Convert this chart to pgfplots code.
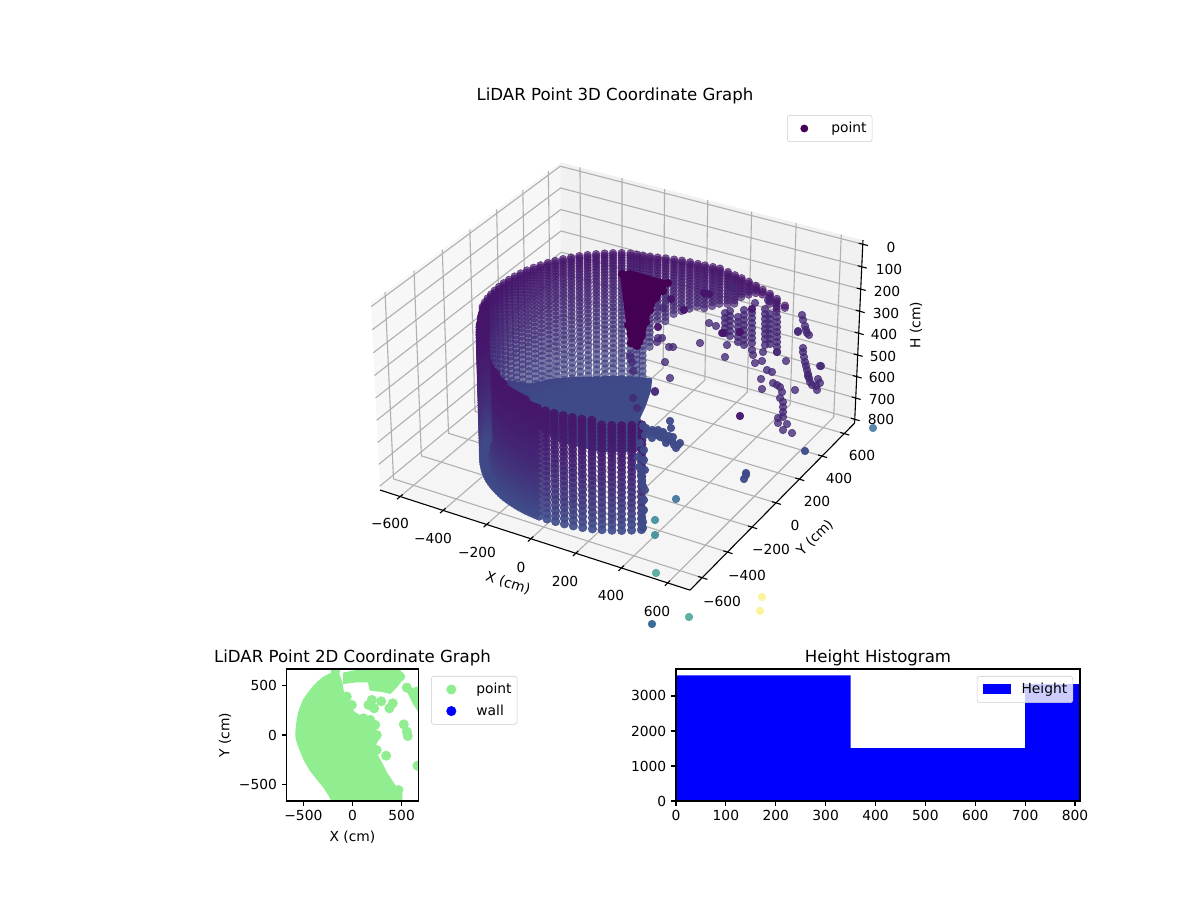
\documentclass[border=0pt]{standalone}
\usepackage{fontspec}
\setmainfont{DejaVu Sans}
\usepackage{pgfplots}
\usepackage{pgfplotstable}
\pgfplotsset{compat=1.18}
\definecolor{cA}{HTML}{46146B}
\definecolor{cB}{HTML}{3F4A89}
\definecolor{gridc}{HTML}{B0B0B0}
\definecolor{lgreen}{HTML}{90EE90}
\definecolor{legc}{HTML}{CCCCCC}
\definecolor{c0}{HTML}{440154}
\definecolor{c1}{HTML}{5B87AD}
\definecolor{c2}{HTML}{40709B}
\definecolor{c3}{HTML}{3E8D98}
\definecolor{c4}{HTML}{4FA89A}
\definecolor{c5}{HTML}{3A6D98}
\definecolor{c6}{HTML}{F9F28E}
% wall columns: X Y (cm), first and last height (cm)
\pgfplotstableread{
X Y Ht Hb
-525 -183 197 800
-536 -150 197 800
-544 -116 197 800
-550 -81 197 800
-554 -47 197 800
-556 -12 197 800
-556 23 197 800
-553 58 197 800
-548 93 197 800
-541 127 197 800
-532 161 197 800
-521 194 197 800
-508 226 197 800
-493 258 197 800
-476 288 197 800
-457 317 197 800
-436 345 197 800
-413 372 197 800
-389 397 197 800
-363 421 197 800
-336 443 197 800
-308 463 197 800
-278 481 197 800
-245 495 197 810
-218 500 197 810
-192 505 197 787
-163 512 197 635
-132 520 197 505
-100 530 197 490
-66 538 197 460
-34 546 197 430
1 550 197 414
35 553 197 405
66 556 197 400
100 560 197 385
131 563 197 372
173 553 197 350
210 543 197 326
245 534 197 290
284 522 197 257
324 507 197 240
363 490 197 229
403 475 197 250
446 452 197 261
499 419 197 215
}\backwall
\pgfplotstableread{
X Y Ht Hb
-520 -175 197 810
-508 -211 200 810
-500 -228 203 810
-492 -245 205 810
-484 -262 208 810
-476 -279 212 810
-467 -295 216 810
-457 -311 220 810
-447 -326 225 810
-436 -341 230 810
-424 -356 235 810
-412 -371 240 810
-399 -385 245 810
-386 -398 250 810
-373 -412 255 810
-359 -425 260 810
-344 -437 265 810
-329 -448 270 810
-314 -459 274 810
-298 -469 278 810
-282 -479 282 810
-265 -489 286 810
-248 -498 290 810
-231 -506 294 810
-214 -513 297 810
-197 -520 300 810
-179 -526 303 810
-161 -532 305 810
-143 -537 307 810
-124 -542 309 810
-106 -546 311 810
-87 -549 313 810
-68 -552 315 810
-49 -554 317 810
-12 -556 320 810
26 -555 322 810
64 -552 323 810
101 -547 324 810
138 -539 325 810
175 -528 326 810
210 -515 327 810
245 -499 328 810
278 -482 329 810
310 -461 330 810
341 -439 332 810
}\frontwall
\pgfplotsset{
  table/proj/.style={x expr={sX(\thisrow{X},\thisrow{Y},\thisrow{H})},y expr={sY(\thisrow{X},\thisrow{Y},\thisrow{H})}},
  table/scr/.style={x=px,y expr={900-\thisrow{py}}},
  dot/.style={only marks,mark=*,mark size=2.75pt,color=#1}
}
\newcommand\seg[6]{\addplot[black,line width=0.8pt] table[proj,row sep=\\]{X Y H\\ #1 #2 #3\\ #4 #5 #6\\};}
\newcommand\wallrow[4]{\addplot[only marks,mark=*,mark size=2.75pt,opacity=0.68,color=cB!#3!cA]
  table[x expr={sX(\thisrow{X},\thisrow{Y},#2)},y expr={sY(\thisrow{X},\thisrow{Y},#2)},
  restrict expr to domain={(\thisrow{Hb}-#2)*(#2-\thisrow{Ht})}{0:100000000}]{#1};}
\newcommand\frontrow[3]{\addplot[only marks,mark=*,mark size=3.05pt,opacity=0.9,color=cB!#3!cA]
  table[x expr={sX(\thisrow{X},\thisrow{Y},#2)},y expr={sY(\thisrow{X},\thisrow{Y},#2)},
  restrict expr to domain={(\thisrow{Hb}-#2)*(#2-\thisrow{Ht})}{0:100000000}]{#1};}
\newcommand\wallrows[2]{%
\wallrow{#1}{197}{0}{#2}\wallrow{#1}{207}{2}{#2}\wallrow{#1}{218}{3}{#2}\wallrow{#1}{230}{5}{#2}%
\wallrow{#1}{242}{7}{#2}\wallrow{#1}{255}{9}{#2}\wallrow{#1}{268}{12}{#2}\wallrow{#1}{282}{14}{#2}%
\wallrow{#1}{296}{16}{#2}\wallrow{#1}{311}{19}{#2}\wallrow{#1}{326}{21}{#2}\wallrow{#1}{342}{24}{#2}%
\wallrow{#1}{358}{26}{#2}\wallrow{#1}{375}{29}{#2}\wallrow{#1}{392}{32}{#2}\wallrow{#1}{410}{35}{#2}%
\wallrow{#1}{428}{38}{#2}\wallrow{#1}{447}{41}{#2}\wallrow{#1}{466}{44}{#2}\wallrow{#1}{486}{47}{#2}%
\wallrow{#1}{506}{50}{#2}\wallrow{#1}{527}{54}{#2}\wallrow{#1}{548}{57}{#2}\wallrow{#1}{570}{61}{#2}%
\wallrow{#1}{592}{64}{#2}\wallrow{#1}{615}{68}{#2}\wallrow{#1}{638}{72}{#2}\wallrow{#1}{662}{76}{#2}%
\wallrow{#1}{686}{80}{#2}\wallrow{#1}{710}{84}{#2}\wallrow{#1}{735}{88}{#2}\wallrow{#1}{760}{92}{#2}%
\wallrow{#1}{785}{96}{#2}\wallrow{#1}{810}{100}{#2}}
\newcommand\frontrows[1]{%
\frontrow{#1}{197}{0}\frontrow{#1}{207}{0}\frontrow{#1}{218}{0}\frontrow{#1}{230}{0}%
\frontrow{#1}{242}{0}\frontrow{#1}{255}{1}\frontrow{#1}{268}{1}\frontrow{#1}{282}{2}%
\frontrow{#1}{296}{3}\frontrow{#1}{311}{4}\frontrow{#1}{326}{4}\frontrow{#1}{342}{6}%
\frontrow{#1}{358}{7}\frontrow{#1}{375}{8}\frontrow{#1}{392}{10}\frontrow{#1}{410}{12}%
\frontrow{#1}{428}{14}\frontrow{#1}{447}{17}\frontrow{#1}{466}{19}\frontrow{#1}{486}{22}%
\frontrow{#1}{506}{25}\frontrow{#1}{527}{29}\frontrow{#1}{548}{32}\frontrow{#1}{570}{37}%
\frontrow{#1}{592}{41}\frontrow{#1}{615}{46}\frontrow{#1}{638}{52}\frontrow{#1}{662}{58}%
\frontrow{#1}{686}{64}\frontrow{#1}{710}{71}\frontrow{#1}{735}{77}\frontrow{#1}{760}{85}%
\frontrow{#1}{785}{92}\frontrow{#1}{810}{100}}
\begin{document}
\begin{tikzpicture}[declare function={
  cX(\x)=\x*0.0008564;
  cZ(\x)=0.36*(1-2*(\x+18)/836);
  pW(\x,\y,\z)=10-(0.43301*cX(\x)-0.75*cX(\y)+0.5*cZ(\z));
  sX(\x,\y,\z)=621.7+2970*(0.86603*cX(\x)+0.5*cX(\y))/pW(\x,\y,\z);
  sY(\x,\y,\z)=535+2970*(-0.25*cX(\x)+0.43301*cX(\y)+0.86603*cZ(\z))/pW(\x,\y,\z);
}]
\path[use as bounding box] (0,0) rectangle (12in,9in);
\begin{axis}[at={(0,0)},anchor=south west,scale only axis,width=12in,height=9in,
  xmin=0,xmax=1200,ymin=0,ymax=900,hide axis,clip=false,
  legend style={at={(787/1200,785/900)},anchor=north west,draw=legc,rounded corners=2pt,
    font=\fontsize{10}{12}\selectfont,inner xsep=2pt,inner ysep=3pt},legend cell align=left,
  legend image code/.code={\path (0in,0in) (0.38in,0in);\draw[#1,mark repeat=2,mark phase=2] plot coordinates {(0in,0in) (0.14in,0in) (0.38in,0in)};}]
\addlegendimage{only marks,mark=*,mark size=2.6pt,color=c0}
\addlegendentry{point}
% panes
\addplot[fill=black!3,draw=none] table[proj,row sep=\\]{X Y H\\ -695 -695 -18\\ -695 695 -18\\ -695 695 818\\ -695 -695 818\\ -695 -695 -18\\};
\addplot[fill=black!5.5,draw=none] table[proj,row sep=\\]{X Y H\\ -695 695 -18\\ 695 695 -18\\ 695 695 818\\ -695 695 818\\ -695 695 -18\\};
\addplot[fill=black!4,draw=none] table[proj,row sep=\\]{X Y H\\ -695 -695 818\\ 695 -695 818\\ 695 695 818\\ -695 695 818\\ -695 -695 818\\};
% grid
\pgfplotsinvokeforeach{-600,-400,-200,0,200,400,600}{
  \addplot[gridc,line width=0.8pt] table[proj,row sep=\\]{X Y H\\ #1 -695 818\\ #1 695 818\\ #1 695 -18\\};
  \addplot[gridc,line width=0.8pt] table[proj,row sep=\\]{X Y H\\ 695 #1 818\\ -695 #1 818\\ -695 #1 -18\\};
}
\pgfplotsinvokeforeach{0,100,200,300,400,500,600,700,800}{
  \addplot[gridc,line width=0.8pt] table[proj,row sep=\\]{X Y H\\ -695 -695 #1\\ -695 695 #1\\ 695 695 #1\\};
}
% axis lines and ticks
\seg{-695}{-695}{818}{695}{-695}{818}
\seg{695}{-695}{818}{695}{695}{818}
\seg{695}{695}{-18}{695}{695}{818}
\pgfplotsinvokeforeach{-600,-400,-200,0,200,400,600}{
  \seg{#1}{-717}{818}{#1}{-677}{818}
  \seg{677}{#1}{818}{717}{#1}{818}
}
\pgfplotsinvokeforeach{0,100,200,300,400,500,600,700,800}{
  \seg{677}{695}{#1}{717}{695}{#1}
}
% back of the wall
\wallrows{\backwall}{}
% floor
\addplot[fill=cB,draw=cB,line width=3pt,line join=round] table[scr]{
px py
508 382
530 386
550 381
575 379
620 378
650 380
649 390
644 405
638 418
642 430
636 450
600 450
560 440
530 420
508 395
508 382
};
% scattered returns on the far side
\addplot[dot=cA!65!cB,opacity=0.78] table[scr]{
px py
725 313
725 318
725 323
725 328
725 333
730 311
730 316
730 321
730 326
730 331
730 336
738 317
738 322
738 327
738 332
738 337
738 342
744 310
744 315
744 320
744 325
744 330
744 335
744 340
744 345
752 313
752 318
752 323
752 328
752 333
752 338
752 343
752 350
753 355
765 309
765 314
765 319
765 324
765 329
765 334
765 339
765 345
770 314
770 319
770 324
770 329
770 334
770 339
770 344
777 317
777 322
777 327
777 332
777 337
777 342
777 347
777 352
802 315
803 320
805 326
806 330
807 333
809 335
803 348
803 352
804 357
805 362
806 366
807 370
808 374
809 378
810 382
808 376
798 331
821 366
818 379
816 386
820 383
817 390
812 385
767 370
772 372
761 379
762 389
773 383
777 385
780 387
782 392
780 398
783 402
783 407
783 412
783 417
778 418
778 423
787 424
783 430
792 433
795 390
786 361
762 361
755 363
763 352
777 352
709 323
716 326
722 333
727 345
725 357
700 343
673 347
669 347
665 362
670 378
655 391
658 338
662 338
657 342
663 308
732 287
768 300
755 303
798 332
820 366
630 356
632 362
633 371
633 398
637 408
655 392
};
\addplot[dot=cA,opacity=0.95] table[scr]{
px py
740 416
723 333
740 332
658 327
671 299
684 310
704 293
709 294
752 309
};
% front of the wall
\frontrows{\frontwall}
% returns close to the camera
\addplot[dot=cB,opacity=0.95] table[scr]{
px py
670 421
671 428
663 432
655 432
650 433
657 435
663 438
668 440
674 445
678 445
673 437
660 437
647 430
643 426
646 428
652 430
658 430
664 434
669 436
666 443
672 441
676 448
680 443
645 435
652 438
640 443
642 480
643 486
638 457
639 467
641 475
644 450
644 460
645 470
645 490
644 500
644 510
642 517
643 522
643 528
805 451
746 473
746 475
744 479
};
\addplot[dot=c1,opacity=1] table[scr]{px py
873 428
};
\addplot[dot=c2,opacity=0.9] table[scr]{px py
676 499
};
\addplot[dot=c3,opacity=0.9] table[scr]{px py
655 520
655 535
};
\addplot[dot=c4,opacity=0.9] table[scr]{px py
656 573
689 617
};
\addplot[dot=c5,opacity=1] table[scr]{px py
652 624
};
\addplot[dot=c6,opacity=0.85] table[scr]{px py
762 597
760 611
};
% texts of the 3D frame
\node[font=\fontsize{12}{14}\selectfont] at (axis cs:615,804) {LiDAR Point 3D Coordinate Graph};
\node at (axis cs:390,377) {−600};
\node at (axis cs:433,362) {−400};
\node at (axis cs:477,348) {−200};
\node at (axis cs:521,333) {0};
\node at (axis cs:565,319) {200};
\node at (axis cs:611,305) {400};
\node at (axis cs:657,289) {600};
\node[rotate=-18] at (axis cs:508,317) {X (cm)};
\node at (axis cs:722,299) {−600};
\node at (axis cs:747,325) {−400};
\node at (axis cs:771,351) {−200};
\node at (axis cs:795,375) {0};
\node at (axis cs:817,399) {200};
\node at (axis cs:839,422) {400};
\node at (axis cs:862,445) {600};
\node[rotate=45] at (axis cs:815,362) {Y (cm)};
\node at (axis cs:891,653) {0};
\node at (axis cs:889,631) {100};
\node at (axis cs:887,609) {200};
\node at (axis cs:886,587) {300};
\node at (axis cs:884,566) {400};
\node at (axis cs:883,544) {500};
\node at (axis cs:882,523) {600};
\node at (axis cs:882,501) {700};
\node at (axis cs:881,481) {800};
\node[rotate=90] at (axis cs:916,575) {H (cm)};
\end{axis}
% dense patch of returns, above the wall's marks
\begin{axis}[at={(0,0)},anchor=south west,scale only axis,width=12in,height=9in,
  xmin=0,xmax=1200,ymin=0,ymax=900,hide axis,clip=false]
\addplot[fill=c0,draw=c0,line width=4pt,line join=round] table[scr]{
px py
623 275
630 273
650 279
665 283
662 290
654 300
647 315
640 343
633 345
630 335
626 300
623 275
};
\addplot[dot=c0] table[scr]{
px py
622 274
668 283
663 291
656 298
650 310
646 322
642 335
637 346
631 343
628 325
};
\end{axis}
% 2D map
\begin{axis}[at={(2.867in,0.99in)},anchor=south west,scale only axis,width=1.316in,height=1.32in,
  xmin=-670,xmax=670,ymin=-670,ymax=670,tick align=outside,axis line style={line width=0.8pt},
  major tick length=3.5pt,tick style={black,line width=0.8pt},axis on top,clip marker paths=true,
  xtick={-500,0,500},ytick={-500,0,500},xticklabels={−500,0,500},yticklabels={−500,0,500},
  xtick pos=bottom,ytick pos=left,
  title={LiDAR Point 2D Coordinate Graph},title style={at={(0.5,1.022)},anchor=center,yshift=0pt,font=\fontsize{12}{14}\selectfont},
  xlabel={X (cm)},ylabel={Y (cm)},
  xlabel style={at={(axis description cs:0.5,-0.273)},anchor=center},
  ylabel style={at={(axis description cs:-0.469,0.5)},anchor=center},
  legend style={at={(1.0965,0.947)},anchor=north west,draw=legc,rounded corners=2pt,font=\fontsize{10}{12}\selectfont,inner xsep=2pt,inner ysep=3pt,row sep=2.5pt},
  legend cell align=left,
  legend image code/.code={\path (0in,0in) (0.39in,0in);\draw[#1,mark repeat=2,mark phase=2] plot coordinates {(0in,0in) (0.17in,0in) (0.39in,0in)};}]
\addlegendimage{only marks,mark=*,mark size=3.4pt,color=lgreen}
\addlegendentry{point}
\addlegendimage{only marks,mark=*,mark size=3.4pt,color=blue}
\addlegendentry{wall}
\addplot[fill=lgreen,draw=lgreen,line width=1pt] table{
x y
-575 34
-565 130
-549 220
-525 290
-498 356
-450 425
-397 492
-350 540
-295 586
-210 627
-217 700
-125 700
-142 627
-108 525
-92 424
-41 339
10 237
61 203
214 169
231 34
281 -17
247 -68
214 -136
298 -288
349 -390
451 -542
502 -593
502 -700
-193 -700
-245 -600
-295 -525
-365 -440
-431 -356
-490 -255
-532 -153
-560 -80
-575 -17
-575 34
};
\addplot[fill=lgreen,draw=lgreen,line width=1pt] table{
x y
-92 627
44 654
281 700
451 700
525 593
451 492
383 424
315 441
180 458
163 542
44 542
-92 525
-92 627
};
\addplot[fill=lgreen,draw=lgreen,line width=1pt] table{
x y
553 458
700 492
700 203
620 322
553 458
};
\addplot[only marks,mark=*,mark size=3.4pt,color=lgreen] table{
x y
-58 390
-7 305
163 305
197 356
220 271
292 342
376 271
410 322
522 108
553 34
563 -10
247 -153
342 -210
661 -312
553 481
112 169
180 153
231 102
247 0
214 -34
485 593
468 -559
};
\end{axis}
% histogram
\begin{axis}[at={(6.76in,0.99in)},anchor=south west,scale only axis,width=4.04in,height=1.32in,
  xmin=0,xmax=810,ymin=0,ymax=3770,tick align=outside,axis line style={line width=0.8pt},
  major tick length=3.5pt,tick style={black,line width=0.8pt},axis on top,
  xtick={0,100,200,300,400,500,600,700,800},ytick={0,1000,2000,3000},
  xticklabels={0,100,200,300,400,500,600,700,800},yticklabels={0,1000,2000,3000},
  xtick pos=bottom,ytick pos=left,
  title={Height Histogram},title style={at={(0.5,1.022)},anchor=center,yshift=0pt,font=\fontsize{12}{14}\selectfont},
  legend style={at={(0.983,0.947)},anchor=north east,draw=legc,rounded corners=2pt,fill opacity=0.8,text opacity=1,draw opacity=1,font=\fontsize{10}{12}\selectfont,inner xsep=2pt,inner ysep=3pt},
  legend image code/.code={\fill[blue,fill opacity=1,sharp corners] (0in,-0.05in) rectangle (0.28in,0.05in);\path (-0.03in,0in) (0.36in,0in);}]
\addplot[ybar interval,fill=blue,draw=none] coordinates {(0,3590) (350,1510) (700,3340) (810,3340)};
\addlegendentry{Height}
\end{axis}
\end{tikzpicture}
\end{document}
